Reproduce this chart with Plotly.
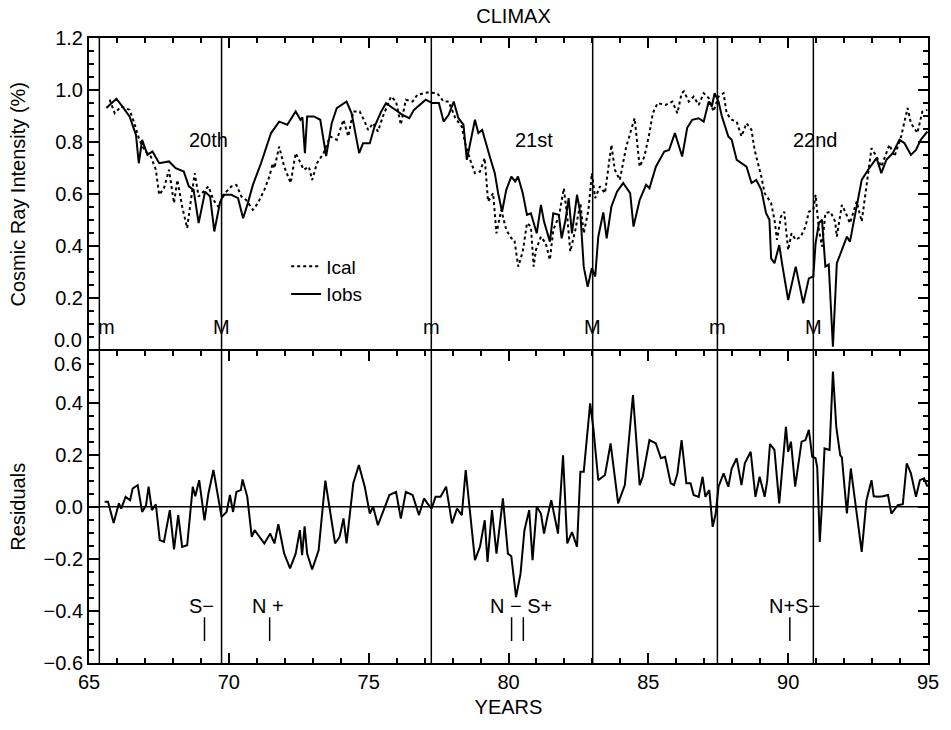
import plotly.graph_objects as go

# ---------------- DATA ----------------
iobs_years = [65.62, 65.98, 66.15, 66.45, 66.68, 66.78, 66.90, 67.09, 67.27, 67.51, 67.86, 68.10, 68.39, 68.57,
              68.74, 68.92, 69.15, 69.33, 69.48, 69.68, 69.80, 70.09, 70.33, 70.51, 70.68, 70.86, 71.15, 71.51,
              71.80, 72.09, 72.39, 72.56, 72.63, 72.72, 72.80, 73.04, 73.27, 73.48, 73.68, 73.86, 74.21, 74.39,
              74.66, 74.80, 75.04, 75.21, 75.45, 75.62, 75.86, 76.10, 76.21, 76.45, 76.62, 77.04, 77.27, 77.51,
              77.68, 77.86, 78.04, 78.21, 78.39, 78.51, 78.63, 78.80, 78.92, 79.06, 79.33, 79.51, 79.63, 79.77,
              79.92, 80.10, 80.24, 80.34, 80.51, 80.66, 80.80, 81.01, 81.16, 81.27, 81.48, 81.60, 81.80, 81.90,
              82.04, 82.15, 82.27, 82.45, 82.57, 82.69, 82.83, 82.98, 83.10, 83.21, 83.39, 83.51, 83.68, 83.88,
              84.10, 84.35, 84.47, 84.69, 84.92, 85.04, 85.27, 85.57, 85.74, 85.95, 86.21, 86.39, 86.57, 86.80,
              86.98, 87.16, 87.27, 87.37, 87.51, 87.63, 87.86, 87.98, 88.16, 88.33, 88.51, 88.69, 88.86, 89.04,
              89.21, 89.33, 89.39, 89.51, 89.68, 89.80, 90.00, 90.27, 90.54, 90.74, 90.90, 90.98, 91.10, 91.21,
              91.33, 91.45, 91.60, 91.74, 91.92, 92.10, 92.21, 92.39, 92.63, 92.86, 93.04, 93.16, 93.33, 93.51,
              93.74, 93.98, 94.16, 94.39, 94.57, 94.74, 94.98]
iobs_vals = [0.931, 0.967, 0.943, 0.899, 0.828, 0.719, 0.809, 0.751, 0.764, 0.719, 0.726, 0.700, 0.687, 0.630,
             0.617, 0.489, 0.610, 0.591, 0.457, 0.566, 0.598, 0.598, 0.585, 0.508, 0.566, 0.636, 0.719, 0.835,
             0.879, 0.867, 0.918, 0.886, 0.895, 0.758, 0.899, 0.899, 0.886, 0.747, 0.873, 0.931, 0.956, 0.911,
             0.758, 0.796, 0.796, 0.860, 0.918, 0.950, 0.931, 0.911, 0.905, 0.892, 0.924, 0.963, 0.950, 0.950,
             0.879, 0.905, 0.956, 0.892, 0.867, 0.732, 0.796, 0.886, 0.835, 0.847, 0.745, 0.681, 0.604, 0.533,
             0.617, 0.668, 0.649, 0.668, 0.604, 0.521, 0.527, 0.450, 0.559, 0.495, 0.418, 0.527, 0.521, 0.431,
             0.502, 0.585, 0.450, 0.598, 0.527, 0.322, 0.245, 0.316, 0.284, 0.437, 0.530, 0.431, 0.553, 0.610,
             0.643, 0.604, 0.476, 0.578, 0.636, 0.623, 0.706, 0.764, 0.770, 0.835, 0.745, 0.855, 0.886, 0.892,
             0.879, 0.956, 0.937, 0.988, 0.956, 0.899, 0.822, 0.809, 0.732, 0.719, 0.706, 0.643, 0.655, 0.617,
             0.527, 0.502, 0.354, 0.335, 0.405, 0.322, 0.194, 0.322, 0.181, 0.277, 0.284, 0.412, 0.489, 0.502,
             0.322, 0.330, 0.015, 0.335, 0.386, 0.437, 0.418, 0.514, 0.655, 0.694, 0.719, 0.739, 0.681, 0.732,
             0.758, 0.809, 0.796, 0.751, 0.770, 0.809, 0.841]

ical_years = [65.74, 65.92, 66.15, 66.45, 66.62, 66.80, 66.98, 67.21, 67.39, 67.51, 67.68, 67.86, 68.04, 68.16,
              68.33, 68.51, 68.63, 68.78, 68.92, 69.09, 69.27, 69.45, 69.62, 69.86, 70.09, 70.27, 70.45, 70.62,
              70.86, 71.04, 71.27, 71.45, 71.57, 71.63, 71.80, 71.98, 72.21, 72.39, 72.56, 72.68, 72.86, 72.98,
              73.15, 73.39, 73.62, 73.86, 74.10, 74.27, 74.45, 74.68, 74.86, 74.98, 75.16, 75.33, 75.51, 75.80,
              75.98, 76.15, 76.33, 76.57, 76.74, 77.10, 77.45, 77.68, 77.86, 78.10, 78.33, 78.45, 78.63, 78.80,
              78.98, 79.15, 79.27, 79.45, 79.57, 79.74, 79.92, 80.10, 80.21, 80.35, 80.51, 80.66, 80.80, 80.90,
              80.98, 81.16, 81.33, 81.48, 81.60, 81.80, 81.98, 82.10, 82.21, 82.39, 82.57, 82.69, 82.86, 82.98,
              83.10, 83.27, 83.45, 83.57, 83.68, 83.80, 83.98, 84.21, 84.39, 84.51, 84.69, 84.86, 85.04, 85.16,
              85.33, 85.62, 85.86, 86.04, 86.19, 86.27, 86.45, 86.62, 86.80, 86.98, 87.16, 87.33, 87.51, 87.69,
              87.80, 87.98, 88.16, 88.33, 88.51, 88.69, 88.80, 88.92, 89.04, 89.16, 89.39, 89.51, 89.60, 89.74,
              89.86, 90.00, 90.12, 90.27, 90.45, 90.62, 90.74, 90.90, 90.98, 91.10, 91.21, 91.33, 91.51, 91.68,
              91.74, 91.92, 92.04, 92.21, 92.45, 92.63, 92.80, 92.98, 93.16, 93.33, 93.62, 93.80, 94.04, 94.27,
              94.39, 94.62, 94.80, 94.98]
ical_vals = [0.963, 0.911, 0.937, 0.924, 0.873, 0.809, 0.770, 0.745, 0.694, 0.598, 0.623, 0.694, 0.566, 0.655,
             0.553, 0.470, 0.566, 0.681, 0.591, 0.610, 0.630, 0.578, 0.553, 0.604, 0.630, 0.636, 0.591, 0.578,
             0.540, 0.566, 0.617, 0.668, 0.719, 0.700, 0.783, 0.706, 0.643, 0.758, 0.719, 0.694, 0.706, 0.655,
             0.719, 0.758, 0.822, 0.809, 0.886, 0.822, 0.918, 0.918, 0.879, 0.847, 0.873, 0.841, 0.899, 0.975,
             0.956, 0.867, 0.963, 0.956, 0.982, 0.991, 0.988, 0.956, 0.956, 0.892, 0.860, 0.796, 0.732, 0.681,
             0.687, 0.739, 0.572, 0.604, 0.450, 0.540, 0.463, 0.431, 0.425, 0.322, 0.380, 0.489, 0.476, 0.322,
             0.386, 0.437, 0.412, 0.348, 0.463, 0.514, 0.623, 0.514, 0.380, 0.463, 0.566, 0.450, 0.540, 0.681,
             0.585, 0.630, 0.604, 0.706, 0.790, 0.694, 0.655, 0.783, 0.847, 0.892, 0.706, 0.745, 0.835, 0.911,
             0.950, 0.943, 0.956, 0.911, 0.988, 0.995, 0.956, 0.975, 0.943, 0.988, 0.969, 0.918, 0.975, 0.988,
             0.911, 0.886, 0.879, 0.822, 0.873, 0.847, 0.770, 0.719, 0.668, 0.604, 0.566, 0.502, 0.425, 0.514,
             0.533, 0.386, 0.450, 0.425, 0.437, 0.476, 0.533, 0.540, 0.598, 0.463, 0.399, 0.527, 0.533, 0.495,
             0.437, 0.559, 0.533, 0.489, 0.572, 0.495, 0.643, 0.777, 0.745, 0.706, 0.790, 0.745, 0.822, 0.931,
             0.873, 0.835, 0.918, 0.924]

res_years = [65.56, 65.68, 65.88, 66.07, 66.15, 66.31, 66.47, 66.56, 66.74, 66.90, 67.04, 67.13, 67.25, 67.39,
             67.53, 67.68, 67.89, 68.04, 68.19, 68.33, 68.51, 68.71, 68.80, 68.94, 69.13, 69.27, 69.45, 69.62,
             69.74, 69.92, 70.04, 70.15, 70.27, 70.43, 70.49, 70.66, 70.82, 70.92, 71.10, 71.27, 71.48, 71.63,
             71.77, 71.98, 72.19, 72.39, 72.54, 72.62, 72.71, 72.80, 72.98, 73.21, 73.45, 73.62, 73.80, 73.96,
             74.10, 74.21, 74.45, 74.65, 74.86, 75.04, 75.16, 75.33, 75.57, 75.74, 75.98, 76.15, 76.33, 76.57,
             76.80, 76.98, 77.10, 77.25, 77.39, 77.57, 77.77, 77.98, 78.16, 78.33, 78.47, 78.63, 78.80, 78.98,
             79.15, 79.25, 79.41, 79.57, 79.80, 79.98, 80.10, 80.27, 80.43, 80.57, 80.74, 80.86, 81.01, 81.16,
             81.27, 81.39, 81.53, 81.77, 81.95, 82.10, 82.27, 82.45, 82.57, 82.69, 82.92, 83.04, 83.21, 83.45,
             83.65, 83.92, 84.16, 84.45, 84.69, 84.80, 85.04, 85.27, 85.45, 85.60, 85.80, 85.92, 86.04, 86.19,
             86.36, 86.51, 86.62, 86.80, 86.94, 87.04, 87.18, 87.30, 87.41, 87.51, 87.69, 87.86, 87.98, 88.16,
             88.33, 88.45, 88.66, 88.83, 88.98, 89.16, 89.25, 89.35, 89.51, 89.68, 89.92, 90.00, 90.10, 90.25,
             90.48, 90.62, 90.74, 90.86, 90.98, 91.04, 91.13, 91.21, 91.30, 91.48, 91.60, 91.72, 91.86, 91.92,
             92.10, 92.24, 92.39, 92.63, 92.80, 92.98, 93.06, 93.21, 93.39, 93.57, 93.69, 93.92, 94.10, 94.24,
             94.39, 94.57, 94.71, 94.86, 94.98]
res_vals = [0.019, 0.019, -0.062, 0.013, -0.007, 0.038, 0.025, 0.070, 0.083, -0.020, 0.006, 0.077, -0.013, 0.009,
            -0.128, -0.135, -0.013, -0.164, -0.032, -0.154, -0.148, 0.077, 0.040, 0.102, -0.052, 0.051, 0.141, 0.032,
            -0.039, -0.020, 0.045, -0.020, 0.057, 0.064, 0.105, 0.038, -0.116, -0.090, -0.116, -0.141, -0.103, -0.141,
            -0.067, -0.180, -0.237, -0.180, -0.090, -0.186, -0.075, -0.180, -0.241, -0.167, 0.100, -0.013, -0.141, -0.116,
            -0.045, -0.141, 0.090, 0.160, 0.077, -0.026, 0.000, -0.071, 0.000, 0.045, 0.057, -0.045, 0.057, 0.045,
            -0.032, 0.032, 0.013, -0.007, 0.038, 0.038, 0.077, -0.064, -0.007, -0.032, 0.141, -0.026, -0.205, -0.154,
            -0.052, -0.212, -0.013, -0.180, 0.032, -0.180, -0.190, -0.347, -0.257, -0.090, -0.013, -0.205, 0.000, -0.026,
            -0.103, -0.039, 0.025, -0.103, 0.198, -0.141, -0.097, -0.154, 0.134, 0.134, 0.397, 0.295, 0.102, 0.122,
            0.243, 0.013, 0.083, 0.429, 0.083, 0.115, 0.256, 0.243, 0.186, 0.192, 0.090, 0.083, 0.128, 0.256,
            0.090, 0.090, 0.045, 0.038, 0.115, 0.038, 0.064, -0.077, -0.026, 0.077, 0.128, 0.077, 0.147, 0.186,
            0.083, 0.167, 0.211, 0.038, 0.115, 0.038, 0.100, 0.241, 0.218, 0.013, 0.307, 0.211, 0.250, 0.077,
            0.250, 0.256, 0.295, 0.192, 0.186, 0.150, -0.135, 0.013, 0.224, 0.218, 0.519, 0.307, 0.198, 0.190,
            -0.026, 0.147, 0.025, -0.173, 0.025, 0.102, 0.040, 0.038, 0.040, 0.045, -0.026, 0.006, 0.010, 0.167,
            0.128, 0.038, 0.102, 0.109, 0.077]

min_years = [65.37, 77.24, 87.47]          # solar minima (m)
max_years = [69.74, 83.01, 90.90]          # solar maxima (M)
cycle_labels = ["20th", "21st", "22nd"]
cycle_label_x = [69.27, 80.92, 90.98]
reversal_labels = ["S\u2212", "N +", "N \u2212 S+", "N+S\u2212"]
reversal_label_x = [69.02, 71.39, 80.45, 90.22]
reversal_years = [69.13, 71.46, 80.11, 80.53, 90.06]

FONT = "Liberation Sans, Arial, Helvetica, sans-serif"
BLACK = "black"

fig = go.Figure()

# top panel traces (x2 / y2)
fig.add_trace(go.Scatter(x=ical_years, y=ical_vals, mode="lines", name="Ical",
                         line=dict(color=BLACK, width=2, dash="dot"), xaxis="x2", yaxis="y2"))
fig.add_trace(go.Scatter(x=iobs_years, y=iobs_vals, mode="lines", name="Iobs",
                         line=dict(color=BLACK, width=2), xaxis="x2", yaxis="y2"))
# bottom panel
fig.add_trace(go.Scatter(x=res_years, y=res_vals, mode="lines", name="Residuals", showlegend=False,
                         line=dict(color=BLACK, width=2), xaxis="x", yaxis="y"))
fig.add_trace(go.Scatter(x=reversal_years, y=[-0.47] * len(reversal_years), mode="markers", showlegend=False,
                         marker=dict(symbol="line-ns-open", size=17, color=BLACK,
                                     line=dict(color=BLACK, width=1.5)),
                         xaxis="x", yaxis="y", hoverinfo="skip"))

axis_common = dict(showline=True, linecolor=BLACK, linewidth=2, ticks="inside",
                   tickcolor=BLACK, tickwidth=1.5, showgrid=False, zeroline=False,
                   tickfont=dict(family=FONT, size=20, color=BLACK))
minor_x = dict(dtick=1, ticks="inside", ticklen=5, tickcolor=BLACK, tickwidth=1.5)
minor_y = dict(dtick=0.05, ticks="inside", ticklen=5, tickcolor=BLACK, tickwidth=1.5)

fig.update_layout(
    width=951, height=730,
    margin=dict(l=89, r=12, t=38, b=67),
    paper_bgcolor="white", plot_bgcolor="white",
    font=dict(family=FONT, color=BLACK, size=20),
    title=dict(text="CLIMAX", x=0.54, xanchor="center", y=0.978, yanchor="middle",
               font=dict(family=FONT, size=20, color=BLACK)),
    xaxis=dict(range=[65, 95], domain=[0, 1], anchor="y", tickvals=[65, 70, 75, 80, 85, 90, 95],
               ticklen=10, minor=minor_x, mirror="ticks",
               title=dict(text="YEARS", font=dict(family=FONT, size=20, color=BLACK), standoff=8),
               **axis_common),
    xaxis2=dict(range=[65, 95], domain=[0, 1], anchor="y2", matches="x", side="top", mirror=False,
                tickvals=[65, 70, 75, 80, 85, 90, 95],
                showticklabels=False, ticklen=10, minor=minor_x,
                **axis_common),
    yaxis=dict(range=[-0.6, 0.6], domain=[0, 0.5], anchor="x", mirror="ticks",
               tickvals=[-0.6, -0.4, -0.2, 0.0, 0.2, 0.4], tickformat=".1f", ticklen=10,
               minor=minor_y,
               title=dict(text="Residuals", font=dict(family=FONT, size=20, color=BLACK), standoff=13),
               **axis_common),
    yaxis2=dict(range=[0, 1.2], domain=[0.5, 1], anchor="x2", mirror="ticks",
                tickvals=[0.2, 0.4, 0.6, 0.8, 1.0, 1.2], tickformat=".1f", ticklen=10,
                minor=minor_y,
                title=dict(text="Cosmic Ray Intensity (%)", font=dict(family=FONT, size=20, color=BLACK),
                           standoff=24),
                **axis_common),
    legend=dict(x=0.235, y=0.665, xanchor="left", yanchor="top", bgcolor="rgba(0,0,0,0)",
                font=dict(family=FONT, size=19, color=BLACK), itemwidth=30, tracegroupgap=4),
    showlegend=True,
)

# zero line in residual panel
fig.add_shape(type="line", xref="x domain", yref="y", x0=0, x1=1, y0=0, y1=0,
              line=dict(color=BLACK, width=1.5))

# vertical lines at solar minima / maxima in both panels
for yr in min_years + max_years:
    for yref in ["y domain", "y2 domain"]:
        fig.add_shape(type="line", xref="x", yref=yref, x0=yr, x1=yr, y0=0, y1=1,
                      line=dict(color=BLACK, width=1.5))

ann_font = dict(family=FONT, size=20, color=BLACK)
for yr in min_years:
    fig.add_annotation(x=yr, y=0.09, xref="x2", yref="y2", text="m", showarrow=False,
                       font=ann_font, xanchor="center" if yr > 66 else "left", xshift=0 if yr > 66 else -3)
for yr in max_years:
    fig.add_annotation(x=yr, y=0.09, xref="x2", yref="y2", text="M", showarrow=False, font=ann_font)
for lab, xx in zip(cycle_labels, cycle_label_x):
    fig.add_annotation(x=xx, y=0.81, xref="x2", yref="y2", text=lab, showarrow=False, font=ann_font)
for lab, xx in zip(reversal_labels, reversal_label_x):
    fig.add_annotation(x=xx, y=-0.38, xref="x", yref="y", text=lab, showarrow=False, font=ann_font)

# boundary tick labels (0.0 of top panel and 0.6 of bottom panel)
fig.add_annotation(x=0, y=0.0, xref="paper", yref="y2", text="0.0", showarrow=False, font=ann_font,
                   xanchor="right", yanchor="bottom", xshift=-6, yshift=-1, borderpad=0)
fig.add_annotation(x=0, y=0.6, xref="paper", yref="y", text="0.6", showarrow=False, font=ann_font,
                   xanchor="right", yanchor="top", xshift=-6, yshift=-1, borderpad=0)

fig.write_html("out.html")
